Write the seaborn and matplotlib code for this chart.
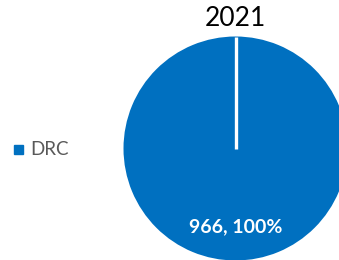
import matplotlib
matplotlib.use("Agg")
import matplotlib.pyplot as plt
import seaborn as sns
from matplotlib.patches import Rectangle

categories = ["DRC"]
values = [966]
title = "2021"
colors = ["#0070C0"]

sns.set_theme(style="white")
plt.rcParams['font.family'] = ['Lato', 'DejaVu Sans']

fig = plt.figure(figsize=(3.39, 2.60), dpi=100)
ax = fig.add_axes([0, 0, 1, 1])

total = sum(values)
cx, cy, r = 235.5, 148.5, 112
wedges, _ = ax.pie(values, colors=colors, startangle=90, counterclock=False,
                   center=(cx, cy), radius=r, frame=True,
                   wedgeprops=dict(edgecolor='none', linewidth=0))
ax.set_xlim(0, 339)
ax.set_ylim(260, 0)
ax.set_aspect('equal')
ax.axis('off')

# slice boundary (start edge of the single wedge)
w = wedges[0]
ax.plot([w.center[0], w.center[0]], [w.center[1], w.center[1] - w.r],
        color='white', linewidth=2.4, solid_capstyle='butt')

for v in values:
    ax.text(cx, cy + 78, f"{v}, {v/total*100:.0f}%", color='white', fontsize=14,
            fontweight='bold', ha='center', va='center')

ax.text(cx, 18, title, fontsize=19, ha='center', va='center', color='black')

for i, c in enumerate(categories):
    ax.add_patch(Rectangle((14, 145), 8.5, 8.5, color=colors[i]))
    ax.text(30, 149.5, c, fontsize=13.5, color='#595959', ha='left', va='center')

fig.savefig("out.png", dpi=100)
